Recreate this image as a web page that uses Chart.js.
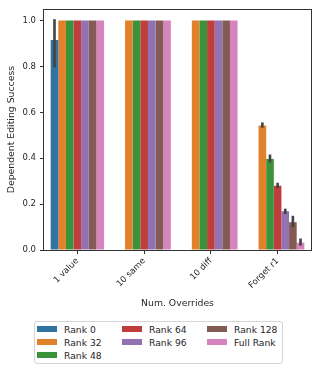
<!DOCTYPE html>
<html><head><meta charset="utf-8">
<script src="https://cdn.jsdelivr.net/npm/chart.js@4"></script>
<style>
html,body{margin:0;padding:0;background:#fff;width:319px;height:373px;overflow:hidden;font-family:"DejaVu Sans",sans-serif;color:#262626;}
#wrap{position:absolute;left:0;top:0;width:319px;height:312px;}
#legend{position:absolute;left:34px;top:321px;width:249px;height:43px;border:1px solid #d6d6d6;border-radius:3px;background:#fff;box-sizing:border-box;}
.patch{position:absolute;width:20px;height:6px;}
.lt{position:absolute;font-size:9.2px;line-height:13px;white-space:nowrap;}
</style></head><body>
<div id="wrap"><canvas id="c"></canvas></div>
<div id="legend"></div>
<script>
// ---- data ----
const categories = ['1 value', '10 same', '10 diff', 'Forget r1'];
const seriesNames = ['Rank 0', 'Rank 32', 'Rank 48', 'Rank 64', 'Rank 96', 'Rank 128', 'Full Rank'];
const seriesColors = ['#3274a1', '#e1812c', '#3a923a', '#c03d3e', '#9372b2', '#845b53', '#d684bd'];
const rank0    = [0.915, null, null, null];
const rank32   = [1.0, 1.0, 1.0, 0.543];
const rank48   = [1.0, 1.0, 1.0, 0.397];
const rank64   = [1.0, 1.0, 1.0, 0.280];
const rank96   = [1.0, 1.0, 1.0, 0.169];
const rank128  = [1.0, 1.0, 1.0, 0.121];
const fullRank = [1.0, 1.0, 1.0, 0.032];
// error bar bounds (null = none)
const rank0Lo    = [0.796, null, null, null];
const rank0Hi    = [1.006, null, null, null];
const rank32Lo   = [null, null, null, 0.533];
const rank32Hi   = [null, null, null, 0.556];
const rank48Lo   = [null, null, null, 0.382];
const rank48Hi   = [null, null, null, 0.416];
const rank64Lo   = [null, null, null, 0.270];
const rank64Hi   = [null, null, null, 0.293];
const rank96Lo   = [null, null, null, 0.157];
const rank96Hi   = [null, null, null, 0.180];
const rank128Lo  = [null, null, null, 0.100];
const rank128Hi  = [null, null, null, 0.149];
const fullRankLo = [null, null, null, 0.019];
const fullRankHi = [null, null, null, 0.050];
const yTicks = [0, 0.2, 0.4, 0.6, 0.8, 1.0];

const seriesValues = [rank0, rank32, rank48, rank64, rank96, rank128, fullRank];
const seriesLo = [rank0Lo, rank32Lo, rank48Lo, rank64Lo, rank96Lo, rank128Lo, fullRankLo];
const seriesHi = [rank0Hi, rank32Hi, rank48Hi, rank64Hi, rank96Hi, rank128Hi, fullRankHi];

const TXT = '#262626';
const AX = '#333333';

const errPlugin = {
  id: 'errbars',
  afterDatasetsDraw(chart) {
    const ctx = chart.ctx, ys = chart.scales.y;
    ctx.save();
    ctx.strokeStyle = '#424242';
    ctx.lineWidth = 2.6;
    ctx.lineCap = 'butt';
    chart.data.datasets.forEach((ds, i) => {
      const meta = chart.getDatasetMeta(i);
      meta.data.forEach((el, j) => {
        const lo = seriesLo[i][j], hi = seriesHi[i][j];
        if (lo == null || hi == null) return;
        ctx.beginPath();
        ctx.moveTo(el.x, ys.getPixelForValue(lo));
        ctx.lineTo(el.x, ys.getPixelForValue(hi));
        ctx.stroke();
      });
    });
    ctx.restore();
  }
};
const framePlugin = {
  id: 'frame',
  afterDraw(chart) {
    const a = chart.chartArea, ctx = chart.ctx;
    ctx.save();
    ctx.strokeStyle = AX;
    ctx.lineWidth = 1;
    ctx.strokeRect(Math.round(a.left) - 0.5, Math.round(a.top) + 0.5, Math.round(a.right - a.left) + 1, Math.round(a.bottom - a.top));
    ctx.restore();
  }
};

new Chart(document.getElementById('c'), {
  type: 'bar',
  data: {
    labels: categories,
    datasets: seriesNames.map((n, i) => ({
      label: n,
      data: seriesValues[i],
      backgroundColor: seriesColors[i],
      borderWidth: 0,
      categoryPercentage: 0.8,
      barPercentage: 1.0
    }))
  },
  options: {
    responsive: true,
    maintainAspectRatio: false,
    animation: false,
    layout: { padding: { left: 0, right: 8, top: 8, bottom: 0 } },
    plugins: { legend: { display: false }, tooltip: { enabled: false } },
    scales: {
      x: {
        grid: { display: true, drawOnChartArea: false, drawTicks: true, tickLength: 4, color: AX, offset: false },
        border: { display: false },
        ticks: { color: TXT, font: { family: 'DejaVu Sans', size: 8.5 }, maxRotation: 45, minRotation: 45, padding: 2 },
        title: { display: true, text: 'Num. Overrides', color: TXT, font: { family: 'DejaVu Sans', size: 9.3 }, padding: { top: 0, bottom: 3 } },
        afterFit(s) { s.height = 62; }
      },
      y: {
        min: 0, max: 1.05,
        grid: { display: true, drawOnChartArea: false, drawTicks: true, tickLength: 4, color: AX },
        border: { display: false },
        afterBuildTicks(s) { s.ticks = yTicks.map(v => ({ value: v })); },
        ticks: { color: TXT, font: { family: 'DejaVu Sans', size: 8.5 }, padding: 4, callback: v => Number(v).toFixed(1) },
        title: { display: true, text: 'Dependent Editing Success', color: TXT, font: { family: 'DejaVu Sans', size: 9.3 }, padding: { top: 6, bottom: 0 } },
        afterFit(s) { s.width = 44; }
      }
    }
  },
  plugins: [errPlugin, framePlugin]
});

// ---- legend (column-major, 3 columns like matplotlib) ----
(function () {
  const lg = document.getElementById('legend');
  const ncol = 3, n = seriesNames.length;
  const base = Math.floor(n / ncol), extra = n % ncol;
  const colX = [2, 87, 172];      // patch x inside box
  const textOff = 27;
  const rowY = [4, 17, 30];       // patch top inside box
  let k = 0;
  for (let c = 0; c < ncol; c++) {
    const cnt = base + (c < extra ? 1 : 0);
    for (let r = 0; r < cnt; r++, k++) {
      const p = document.createElement('div');
      p.className = 'patch';
      p.style.left = colX[c] + 'px';
      p.style.top = rowY[r] + 'px';
      p.style.background = seriesColors[k];
      lg.appendChild(p);
      const t = document.createElement('div');
      t.className = 'lt';
      t.style.left = (colX[c] + textOff) + 'px';
      t.style.top = (rowY[r] - 3.5) + 'px';
      t.textContent = seriesNames[k];
      lg.appendChild(t);
    }
  }
})();
</script>
</body></html>
